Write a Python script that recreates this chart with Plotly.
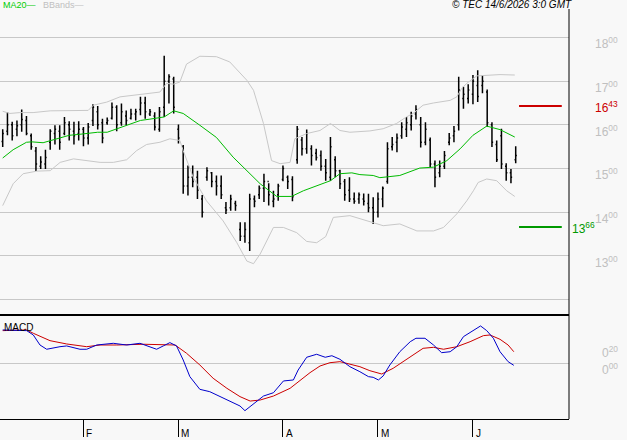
import plotly.graph_objects as go

# ---------------- data ----------------
highs = [1590,1629,1607,1610,1635,1620,1580,1549,1528,1543,1590,1599,1599,1618,1608,1607,1608,1595,1604,1647,
         1643,1614,1617,1651,1645,1649,1633,1637,1637,1664,1664,1636,1629,1641,1758,1716,1710,1601,1554,1507,
         1507,1495,1439,1503,1492,1484,1484,1423,1440,1426,1377,1377,1442,1438,1461,1488,1466,1449,1465,1507,
         1484,1482,1597,1572,1589,1553,1545,1541,1522,1572,1528,1497,1476,1480,1445,1445,1443,1442,1434,1445,
         1459,1560,1572,1580,1606,1618,1630,1645,1618,1606,1571,1518,1518,1540,1581,1597,1710,1687,1693,1714,
         1725,1714,1681,1606,1564,1591,1512,1499,1551]
lows = [1549,1576,1564,1574,1584,1576,1543,1494,1499,1499,1543,1555,1543,1576,1564,1555,1564,1551,1555,1597,
        1589,1558,1600,1612,1585,1598,1599,1612,1610,1622,1614,1620,1587,1584,1618,1649,1626,1557,1442,1438,
        1457,1430,1388,1472,1457,1438,1430,1396,1403,1403,1334,1330,1311,1411,1430,1423,1415,1411,1426,1471,
        1453,1425,1511,1530,1534,1507,1518,1495,1472,1472,1480,1453,1426,1423,1419,1419,1415,1400,1373,1388,
        1411,1465,1541,1537,1568,1572,1587,1612,1548,1553,1503,1457,1480,1499,1553,1560,1587,1637,1649,1647,
        1652,1672,1595,1549,1515,1499,1472,1466,1512]
opens = [1562,1585,1600,1590,1600,1610,1575,1540,1505,1510,1560,1580,1585,1580,1600,1585,1580,1590,1570,1610,
         1630,1605,1605,1615,1640,1605,1620,1615,1625,1635,1650,1625,1620,1590,1640,1700,1705,1590,1550,1460,
         1480,1480,1430,1480,1490,1470,1460,1410,1410,1420,1360,1345,1330,1430,1440,1455,1470,1425,1440,1475,
         1480,1475,1520,1565,1545,1545,1535,1530,1505,1480,1520,1495,1470,1450,1430,1430,1430,1420,1410,1400,
         1430,1470,1550,1560,1575,1590,1600,1625,1600,1560,1565,1510,1490,1505,1560,1575,1600,1660,1660,1670,
         1690,1690,1675,1600,1555,1575,1505,1490,1520]
closes = [1580,1600,1575,1598,1612,1580,1550,1510,1515,1525,1585,1590,1560,1605,1590,1575,1590,1570,1595,1640,
          1600,1570,1610,1640,1600,1630,1610,1625,1630,1650,1630,1630,1595,1630,1700,1710,1640,1570,1460,1480,
          1470,1450,1400,1495,1470,1460,1440,1405,1430,1415,1345,1360,1430,1425,1455,1470,1440,1430,1460,1500,
          1470,1435,1590,1545,1580,1530,1525,1505,1490,1550,1495,1465,1440,1430,1425,1440,1425,1410,1400,1430,
          1455,1545,1555,1570,1595,1605,1620,1635,1560,1590,1510,1480,1505,1530,1570,1585,1680,1670,1680,1700,
          1665,1700,1605,1560,1520,1510,1490,1480,1530]
bar_idx = list(range(len(highs)))

ma20_x = [0,2.2,5,6.1,8.5,10,12,14,16,18,20,22,24,26,29,31,34,36,38,41.5,45,48.5,51.4,54.2,57.7,60.8,63.3,66.1,
          69,71,73.5,75.2,78,79.4,83.6,87.8,90.7,93.5,96.3,99,101.9,104.7,107.8]
ma20_y = [1524,1543,1560,1561,1559,1564,1571,1576,1578,1580,1583,1583,1591,1599,1610,1613,1618,1632,1626,1599,
          1571,1526,1495,1465,1436,1436,1449,1461,1472,1488,1490,1486,1484,1479,1484,1501,1503,1518,1545,1576,
          1597,1589,1572]

bbu_x = [0,1.5,3.6,6.4,10,13.5,18,19.1,21.9,24.7,27.5,30.3,33.1,34.5,35.9,37.3,38.7,41.5,45,47.8,51.4,52.8,54.9,
         56.6,58.4,60.5,61.5,64,66.8,69,71,73.1,77.3,80.1,82.9,85,86.4,88.5,90.7,94.2,95.6,96.6,97.7,99.8,101.9,
         104.7,107.8]
bbu_y = [1631,1626,1628,1628,1632,1633,1633,1645,1652,1664,1668,1672,1675,1695,1693,1698,1739,1757,1756,1744,
         1702,1679,1603,1518,1511,1514,1568,1580,1587,1603,1587,1583,1586,1591,1603,1618,1626,1645,1650,1656,
         1664,1683,1695,1712,1714,1715,1714]

bbl_x = [0,2.2,4.3,7.2,10,12.1,14.9,17.7,20.5,23.3,26.1,28.2,30.3,33.1,35.2,37.3,38,40.1,42.9,46.4,49.3,51.4,52.8,
         54.2,57,59.1,61.9,64,66.1,68,69.6,73.1,76.6,80.1,83.6,87.2,90.7,92.8,95.6,97.7,99.1,100.1,101.9,104,106.1,
         107.8]
bbl_y = [1415,1465,1488,1494,1495,1514,1522,1518,1514,1514,1520,1541,1555,1560,1568,1564,1541,1480,1426,1380,
         1330,1288,1282,1304,1365,1365,1353,1333,1330,1344,1388,1392,1380,1369,1373,1357,1357,1365,1396,1426,
         1449,1468,1476,1472,1449,1436]

macd_x = [0,5.05,6.44,7.85,9.26,10.65,12.06,13.47,14.86,16.27,17.68,19.79,23.28,26.1,28.9,30.65,32.4,33.8,35.2,
          36.6,38.0,39.4,41.5,43.6,45.7,48.5,49.96,51.0,52.8,54.9,57.0,59.1,61.2,62.2,64.0,66.1,67.9,69.3,71.0,
          73.1,75.2,77.0,78.0,79.1,80.1,81.5,83.6,85.8,87.0,88.9,90.7,92.4,94.2,95.6,97.0,99.1,100.6,101.9,103.3,
          104.7,106.4,107.6]
macd_y = [0.392,0.384,0.333,0.215,0.165,0.184,0.195,0.204,0.188,0.165,0.165,0.215,0.235,0.215,0.235,0.204,0.165,
          0.204,0.243,0.204,0.039,-0.157,-0.306,-0.334,-0.392,-0.471,-0.502,-0.557,-0.479,-0.385,-0.346,-0.208,
          -0.196,-0.079,0.071,0.106,0.071,0.089,0.047,-0.040,-0.099,-0.157,-0.165,-0.196,-0.149,-0.020,0.136,
          0.254,0.294,0.294,0.215,0.125,0.136,0.195,0.313,0.384,0.439,0.384,0.294,0.136,0.019,-0.024]

sig_x = [0,5.05,6.44,9.96,13.47,17.68,20.5,24.0,29.6,33.1,36.3,38.7,41.5,44.3,47.2,49.96,52.1,54.2,57.0,60.5,
         63.3,64.7,66.8,68.9,71.0,73.1,75.2,77.3,79.8,82.2,84.3,86.4,88.5,90.7,92.8,95.6,98.4,101.2,102.6,104.7,
         106.4,107.6]
sig_y = [0.384,0.392,0.353,0.266,0.227,0.195,0.215,0.215,0.224,0.215,0.215,0.118,-0.020,-0.176,-0.294,-0.392,
         -0.444,-0.432,-0.385,-0.294,-0.165,-0.110,-0.032,0.007,0.019,-0.008,-0.040,-0.087,-0.126,-0.059,0.019,
         0.106,0.176,0.188,0.165,0.195,0.254,0.325,0.333,0.282,0.215,0.136]

price_ticks = [1300, 1400, 1500, 1600, 1700, 1800]
grid_levels = [1200, 1300, 1400, 1500, 1600, 1700, 1800]
month_idx = [17, 37, 59, 79, 99]
month_lbl = ["F", "M", "A", "M", "J"]
resistance = 1643
support = 1366
macd_ticks = [0.20, 0.00]

# ---------------- geometry ----------------
W, H = 627, 440
px_right = 569
def py(v):
    return 1 - v / H

FONT = "Liberation Sans"
GRID = "#c8c8c8"
LBL = "#c0c0c0"
BG = "#f8f8f8"

fig = go.Figure()

fig.add_trace(go.Scatter(x=bbu_x, y=bbu_y, mode="lines", line=dict(color=GRID, width=1),
                         xaxis="x", yaxis="y", hoverinfo="skip"))
fig.add_trace(go.Scatter(x=bbl_x, y=bbl_y, mode="lines", line=dict(color=GRID, width=1),
                         xaxis="x", yaxis="y", hoverinfo="skip"))
fig.add_trace(go.Scatter(x=ma20_x, y=ma20_y, mode="lines", line=dict(color="#00bb00", width=1),
                         xaxis="x", yaxis="y"))
fig.add_trace(go.Ohlc(x=bar_idx, open=opens, high=highs, low=lows, close=closes,
                      increasing=dict(line=dict(color="black", width=1.5)),
                      decreasing=dict(line=dict(color="black", width=1.5)),
                      tickwidth=0.25, xaxis="x", yaxis="y"))

last = len(highs) - 1
lvl_x = [last + 0.7, last + 9.7]
fig.add_trace(go.Scatter(x=lvl_x, y=[resistance, resistance], mode="lines",
                         line=dict(color="#cc0000", width=2), xaxis="x", yaxis="y"))
fig.add_trace(go.Scatter(x=lvl_x, y=[support, support], mode="lines",
                         line=dict(color="#009900", width=2), xaxis="x", yaxis="y"))

fig.add_trace(go.Scatter(x=sig_x, y=sig_y, mode="lines", line=dict(color="#cc0000", width=1),
                         xaxis="x", yaxis="y2"))
fig.add_trace(go.Scatter(x=macd_x, y=macd_y, mode="lines", line=dict(color="#0000cc", width=1),
                         xaxis="x", yaxis="y2"))

x0 = -2.7 / 4.75
x1 = (px_right - 2.7) / 4.75

ann = []
def sup_tail(s):
    return s[:-2] + "<sup>" + s[-2:] + "</sup>"

for p in price_ticks:
    ann.append(dict(x=593 / W, xref="paper", xanchor="left", y=p, yref="y", yanchor="middle",
                    yshift=-6, text=sup_tail(str(p)), showarrow=False,
                    font=dict(family=FONT, size=12, color=LBL)))
ann.append(dict(x=593 / W, xref="paper", xanchor="left", y=resistance, yref="y", yanchor="middle",
                yshift=-1, text=sup_tail(str(resistance)), showarrow=False,
                font=dict(family=FONT, size=12, color="#cc0000")))
ann.append(dict(x=570 / W, xref="paper", xanchor="left", y=support, yref="y", yanchor="middle",
                yshift=-1, text=sup_tail(str(support)), showarrow=False,
                font=dict(family=FONT, size=12, color="#009900")))
for v in macd_ticks:
    t = sup_tail("0%02d" % round(v * 100))
    ann.append(dict(x=600 / W, xref="paper", xanchor="left", y=v, yref="y2", yanchor="middle",
                    yshift=-5.5, text=t, showarrow=False, font=dict(family=FONT, size=12, color=LBL)))
for i, l in zip(month_idx, month_lbl):
    ann.append(dict(x=i, xref="x", xanchor="left", xshift=1, y=py(433), yref="paper", yanchor="middle",
                    text=l, showarrow=False, font=dict(family=FONT, size=10, color="black")))
ann.append(dict(x=1 / W, xref="paper", xanchor="left", y=py(5), yref="paper", yanchor="middle",
                text="MA20—", showarrow=False, font=dict(family=FONT, size=9, color="#00cc00")))
ann.append(dict(x=41 / W, xref="paper", xanchor="left", y=py(5), yref="paper", yanchor="middle",
                text="BBands—", showarrow=False, font=dict(family=FONT, size=9, color=LBL)))
ann.append(dict(x=574 / W, xref="paper", xanchor="right", y=py(5), yref="paper", yanchor="middle",
                text="<i>© TEC 14/6/2026 3:0 GMT</i>", showarrow=False,
                font=dict(family=FONT, size=10, color="black")))
ann.append(dict(x=2 / W, xref="paper", xanchor="left", y=py(327), yref="paper", yanchor="middle",
                text="MACD", showarrow=False, font=dict(family=FONT, size=10, color="black")))

shapes = [
    dict(type="line", xref="paper", yref="paper", x0=px_right / W, x1=px_right / W, y0=py(9), y1=py(419),
         line=dict(color="black", width=1)),
    dict(type="line", xref="paper", yref="paper", x0=0, x1=px_right / W, y0=py(315), y1=py(315),
         line=dict(color="black", width=2)),
]

fig.update_layout(
    width=W, height=H, margin=dict(l=0, r=0, t=0, b=0),
    paper_bgcolor=BG, plot_bgcolor=BG, showlegend=False,
    xaxis=dict(domain=[0, px_right / W], range=[x0, x1], anchor="y2",
               rangeslider=dict(visible=False), showgrid=False, zeroline=False,
               tickmode="array", tickvals=month_idx, ticks="outside", ticklen=17, tickwidth=1,
               tickcolor="black", showticklabels=False, showline=True, linecolor="black", linewidth=1),
    yaxis=dict(domain=[py(315), py(9)], range=[1164.5, 1865.2], tickmode="array", tickvals=grid_levels,
               showgrid=True, gridcolor=GRID, gridwidth=1, showticklabels=False, zeroline=False, ticks=""),
    yaxis2=dict(domain=[py(419), py(316)], range=[-0.655, 0.556], tickmode="array", tickvals=[0],
                showgrid=True, gridcolor=GRID, gridwidth=1, showticklabels=False, zeroline=False, ticks=""),
    annotations=ann, shapes=shapes,
)

fig.write_html("out.html")
